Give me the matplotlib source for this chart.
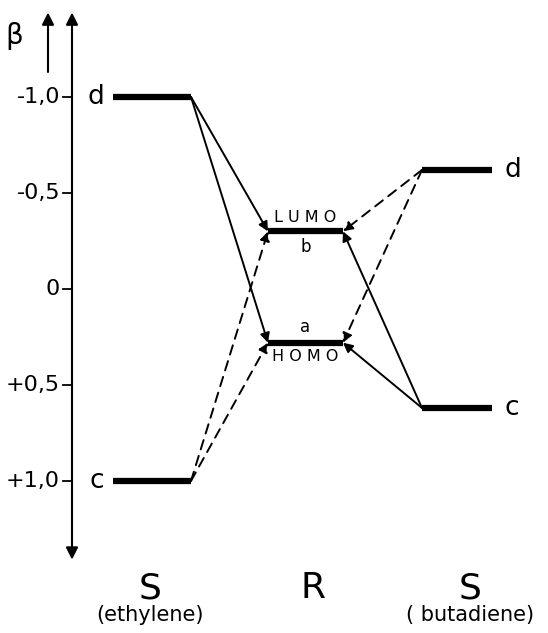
import matplotlib
matplotlib.use('Agg')
from matplotlib import pyplot as plt

# Energy levels (in units of beta)
ethylene_levels = [-1.0, 1.0]       # d, c
ethylene_names = ['d', 'c']
r_levels = [-0.30, 0.28]            # LUMO (b), HOMO (a)
butadiene_levels = [-0.62, 0.62]    # d, c
butadiene_names = ['d', 'c']
tick_values = [-1.0, -0.5, 0.0, 0.5, 1.0]
tick_labels = ['-1,0', '-0,5', '0', '+0,5', '+1,0']

# interactions: (source side, source index, target index, style)
links = [
    ('eth', 0, 0, '-'), ('eth', 0, 1, '-'),
    ('eth', 1, 0, '--'), ('eth', 1, 1, '--'),
    ('but', 0, 0, '--'), ('but', 0, 1, '--'),
    ('but', 1, 0, '-'), ('but', 1, 1, '-'),
]

fig = plt.figure(figsize=(5.48, 6.33), dpi=100)
ax = fig.add_axes([0, 0, 1, 1])
ax.set_xlim(0, 548)
ax.set_ylim(1.792, -1.505)
ax.axis('off')

# column extents (x)
eth_x = (113, 191)
r_x = (268, 343)
but_x = (422, 492)

arrow_kw = dict(arrowstyle='-|>', color='black', lw=1.5,
                mutation_scale=18, shrinkA=0, shrinkB=0)

# energy axis with arrows both ends
ax.annotate('', xy=(72, -1.44), xytext=(72, 0.2), arrowprops=arrow_kw)
ax.annotate('', xy=(72, 1.41), xytext=(72, 0.2), arrowprops=arrow_kw)
# small beta arrow
ax.annotate('', xy=(48, -1.44), xytext=(48, -1.13), arrowprops=arrow_kw)
ax.text(14, -1.32, 'β', fontsize=20, ha='center', va='center')

for v, lab in zip(tick_values, tick_labels):
    ax.plot([63, 72], [v, v], color='black', lw=1.3)
    ax.text(60, v, lab, fontsize=16, ha='right', va='center')

# levels
for v, name in zip(ethylene_levels, ethylene_names):
    ax.plot(eth_x, [v, v], color='black', lw=4.5, solid_capstyle='butt')
    ax.text(eth_x[0] - 9, v, name, fontsize=19, ha='right', va='center')
for v in r_levels:
    ax.plot(r_x, [v, v], color='black', lw=4.5, solid_capstyle='butt')
for v, name in zip(butadiene_levels, butadiene_names):
    ax.plot(but_x, [v, v], color='black', lw=4.5, solid_capstyle='butt')
    ax.text(but_x[1] + 12, v, name, fontsize=19, ha='left', va='center')

rmid = sum(r_x) / 2
ax.text(rmid, r_levels[0] - 0.035, 'L U M O', fontsize=11.5, ha='center', va='bottom')
ax.text(rmid, r_levels[0] + 0.035, 'b', fontsize=12, ha='center', va='top')
ax.text(rmid, r_levels[1] - 0.035, 'a', fontsize=12, ha='center', va='bottom')
ax.text(rmid, r_levels[1] + 0.035, 'H O M O', fontsize=11.5, ha='center', va='top')

for side, i, j, ls in links:
    if side == 'eth':
        start = (eth_x[1], ethylene_levels[i])
        end = (r_x[0], r_levels[j])
    else:
        start = (but_x[0], butadiene_levels[i])
        end = (r_x[1], r_levels[j])
    style = '-' if ls == '-' else (0, (5, 3.5))
    ax.annotate('', xy=end, xytext=start,
                arrowprops=dict(arrowstyle='-|>', color='black', lw=1.4,
                                linestyle=style, mutation_scale=14,
                                shrinkA=0, shrinkB=0))

# column labels
ax.text(150, 1.56, 'S', fontsize=26, ha='center', va='center')
ax.text(150, 1.70, '(ethylene)', fontsize=15, ha='center', va='center')
ax.text(313, 1.56, 'R', fontsize=26, ha='center', va='center')
ax.text(470, 1.56, 'S', fontsize=26, ha='center', va='center')
ax.text(470, 1.70, '( butadiene)', fontsize=15, ha='center', va='center')

fig.savefig('out.png', dpi=100)
